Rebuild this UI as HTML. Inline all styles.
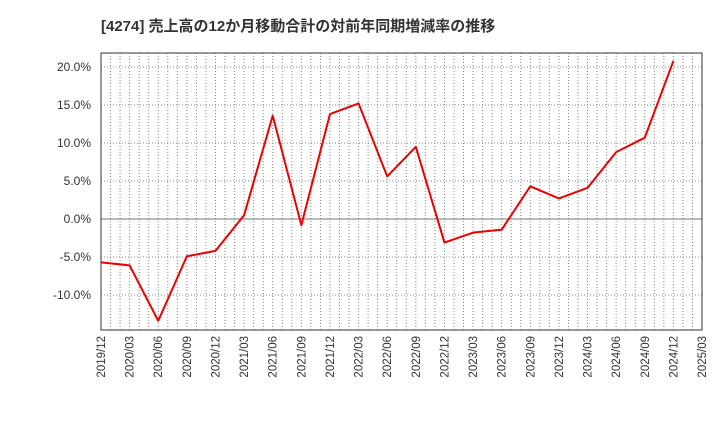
<!DOCTYPE html>
<html><head><meta charset="utf-8"><style>
body{margin:0;background:#fff}
svg{display:block;font-family:"Liberation Sans","Noto Sans CJK JP",sans-serif}
</style></head><body>
<svg id="c" width="720" height="440">
<text x="101" y="31" font-size="15" font-weight="bold" fill="#333">[4274]  売上高の12か月移動合計の対前年同期増減率の推移</text>
</svg>
<script>
const categories=["2019/12","2020/03","2020/06","2020/09","2020/12","2021/03","2021/06","2021/09","2021/12","2022/03","2022/06","2022/09","2022/12","2023/03","2023/06","2023/09","2023/12","2024/03","2024/06","2024/09","2024/12","2025/03"];
const values=[-5.7,-6.1,-13.4,-4.9,-4.2,0.5,13.6,-0.8,13.8,15.2,5.6,9.5,-3.1,-1.8,-1.4,4.3,2.7,4.1,8.8,10.7,20.8];
const yTicks=[-10,-5,0,5,10,15,20];
const NS="http://www.w3.org/2000/svg";
const svg=document.getElementById('c');
const L=101,R=702,T=53,B=330;
const x=i=>L+i*(R-L)/(categories.length-1);
const y=v=>219-v*7.6;
function mk(t,a){const e=document.createElementNS(NS,t);for(const k in a)e.setAttribute(k,a[k]);svg.appendChild(e);return e;}
// monthly vertical grid
for(let m=1;m<(categories.length-1)*3;m++){
 const xx=L+m*(R-L)/((categories.length-1)*3);
 const g=mk('line',{x1:xx,x2:xx,y1:T,y2:B,stroke:'#888','stroke-width':1,'stroke-dasharray':'1,2'});
 
 
}
yTicks.forEach(v=>{
 const g=mk('line',{x1:L,x2:R,y1:y(v),y2:y(v),stroke:v===0?'#777':'#888','stroke-width':1,'stroke-dasharray':v===0?'none':'1,2'});
 
 
 const t=mk('text',{x:L-10,y:y(v)+4,'text-anchor':'end','font-size':12,fill:'#333'});
 t.textContent=v.toFixed(1)+'%';
 
 
});
const f=mk('rect',{x:L,y:T,width:R-L,height:B-T,fill:'none',stroke:'#333','stroke-width':1});


categories.forEach((c,i)=>{
 const t=mk('text',{x:0,y:0,'text-anchor':'end','font-size':11.5,fill:'#333',transform:`translate(${x(i)+4},${B+6}) rotate(-90)`});
 t.textContent=c;
 
 
});
const p=mk('polyline',{points:values.map((v,i)=>x(i)+','+y(v)).join(' '),fill:'none',stroke:'#ee0000','stroke-width':2,'stroke-linejoin':'round'});


</script>
</body></html>
